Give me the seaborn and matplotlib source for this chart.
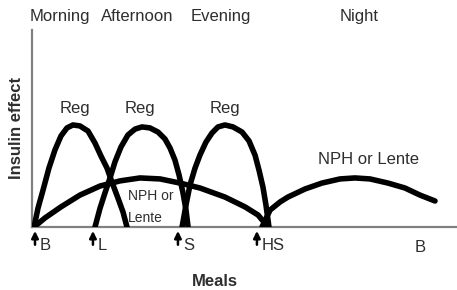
import numpy as np
import pandas as pd
import matplotlib
matplotlib.use("Agg")
import matplotlib.pyplot as plt
import seaborn as sns

# hours after breakfast (x) and relative insulin effect (y)
reg1_x = [-0.06, 0.19, 0.51, 0.88, 1.26, 1.64, 2.02, 2.40, 2.84, 3.35, 3.79, 4.17, 4.55, 4.86, 5.24, 5.56, 5.81]
reg1_y = [0, 9.6, 18.8, 29.9, 39.1, 46.2, 50.3, 51.8, 51.3, 48.7, 42.6, 36.0, 29.9, 22.8, 14.7, 7.6, 0]

reg2_x = [3.79, 4.11, 4.42, 4.74, 5.05, 5.43, 5.87, 6.32, 6.76, 7.26, 7.77, 8.21, 8.53, 8.84, 9.10, 9.35, 9.54, 9.67]
reg2_y = [0, 9.6, 17.3, 24.9, 33.0, 40.6, 46.7, 49.7, 50.8, 50.3, 48.2, 44.7, 40.1, 34.0, 26.4, 17.3, 8.6, 0]

reg3_x = [9.29, 9.54, 9.79, 10.11, 10.42, 10.80, 11.18, 11.56, 12.0, 12.51, 13.08, 13.52, 13.90, 14.15, 14.40, 14.59, 14.78]
reg3_y = [0, 11.2, 21.3, 29.9, 36.5, 43.1, 47.7, 50.8, 51.8, 50.8, 48.2, 43.7, 36.5, 28.9, 20.3, 11.2, 0]

nph1_x = [-0.06, 0.63, 1.64, 2.84, 4.11, 5.37, 6.63, 7.90, 9.16, 10.42, 12.0, 13.27, 14.09, 14.72]
nph1_y = [0, 4.6, 10.2, 16.2, 20.8, 23.4, 24.9, 24.4, 22.3, 19.8, 15.2, 10.2, 6.1, 0]

nph2_x = [14.34, 14.85, 15.48, 15.98, 17.06, 18.13, 19.27, 20.21, 21.16, 22.30, 23.37, 24.32, 25.27]
nph2_y = [0, 8.6, 12.7, 15.2, 19.3, 22.3, 24.4, 24.9, 24.4, 22.3, 19.8, 16.2, 13.2]

meal_times = [0, 3.66, 9.03, 14.02]
meal_labels = ["B", "L", "S", "HS"]
next_breakfast = 24.0

periods = ["Morning", "Afternoon", "Evening", "Night"]
period_x = [1.55, 6.47, 11.75, 20.5]

curve_names = ["reg1", "reg2", "reg3", "nph1", "nph2"]
curve_xs = [reg1_x, reg2_x, reg3_x, nph1_x, nph2_x]
curve_ys = [reg1_y, reg2_y, reg3_y, nph1_y, nph2_y]

frames = []
for name, xs, ys in zip(curve_names, curve_xs, curve_ys):
    frames.append(pd.DataFrame({"hours": xs, "effect": ys, "curve": name}))
df = pd.concat(frames, ignore_index=True)

sns.set_style("white")
plt.rcParams["font.family"] = ["Liberation Sans", "DejaVu Sans"]

fig = plt.figure(figsize=(4.57, 2.90), dpi=100)
ax = fig.add_axes([32 / 457, 63 / 290, 425 / 457, 197 / 290])

sns.lineplot(data=df, x="hours", y="effect", units="curve", estimator=None,
             color="black", linewidth=4.0, solid_capstyle="round", ax=ax, zorder=3)

ax.set_xlim(-0.19, 26.66)
ax.set_ylim(0, 100)
ax.set_xticks([])
ax.set_yticks([])
ax.set_xlabel("")
ax.set_ylabel("")
sns.despine(ax=ax)
for side in ["left", "bottom"]:
    ax.spines[side].set_color("#808080")
    ax.spines[side].set_linewidth(1.6)

txt = "#2e2e2e"
fs = 12

# curve labels
ax.text(2.53, 60.4, "Reg", ha="center", va="center", fontsize=fs, color=txt, zorder=1)
ax.text(6.63, 60.4, "Reg", ha="center", va="center", fontsize=fs, color=txt, zorder=1)
ax.text(12.0, 60.4, "Reg", ha="center", va="center", fontsize=fs, color=txt, zorder=1)
ax.text(21.04, 34.5, "NPH or Lente", ha="center", va="center", fontsize=fs, color=txt, zorder=1)
ax.text(5.88, 15.7, "NPH or", ha="left", va="center", fontsize=10, color=txt, zorder=1)
ax.text(5.88, 4.6, "Lente", ha="left", va="center", fontsize=10, color=txt, zorder=1)

trans = ax.get_xaxis_transform()
for label, xp in zip(periods, period_x):
    ax.text(xp, 1.066, label, transform=trans, ha="center", va="center",
            fontsize=fs, color=txt, clip_on=False)

for label, mt in zip(meal_labels, meal_times):
    ax.annotate("", xy=(mt, -0.02), xytext=(mt, -0.09), xycoords=trans, textcoords=trans,
                arrowprops=dict(arrowstyle="-|>", color="black", lw=1.8, mutation_scale=10,
                                shrinkA=0, shrinkB=0), annotation_clip=False)
    ax.annotate(label, xy=(mt, -0.096), xycoords=trans, xytext=(3.5, 0), textcoords="offset points",
                ha="left", va="center", fontsize=fs, color=txt, annotation_clip=False)
ax.text(next_breakfast, -0.106, "B", transform=trans, ha="left", va="center",
        fontsize=fs, color=txt, clip_on=False)

fig.text(17 / 457, 1 - 128 / 290, "Insulin effect", rotation=90, ha="center", va="center",
         fontsize=fs, fontweight="bold", color=txt)
fig.text(215 / 457, 1 - 281 / 290, "Meals", ha="center", va="center",
         fontsize=fs, fontweight="bold", color=txt)

plt.savefig("out.png", dpi=100)
